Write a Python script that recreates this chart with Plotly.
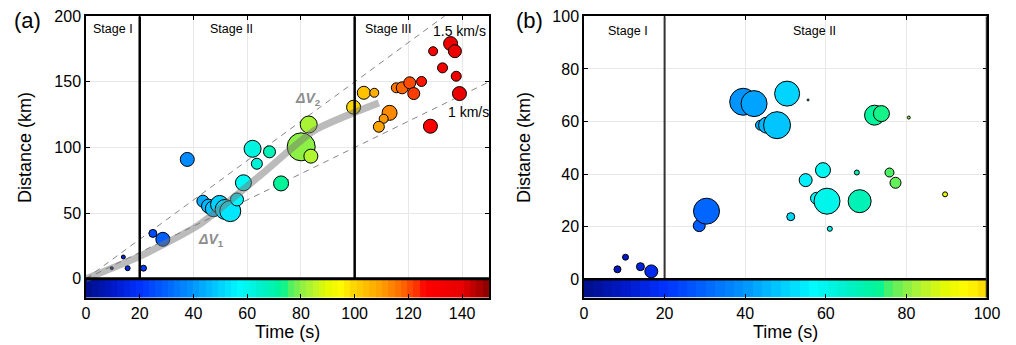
import plotly.graph_objects as go
import numpy as np

# ---------------- data: panel (a) ----------------
a_time = [9.6, 13.9, 15.5, 21.4, 24.9, 28.6, 37.7,
          43.5, 45.6, 47.4, 49.7, 51.8, 53.7, 56.2, 58.6,
          62.0, 68.3, 63.6, 72.6, 80.1, 82.9, 83.7,
          99.6, 103.4, 107.3, 113.0, 110.8, 109.0,
          115.5, 117.7, 120.5, 122.0, 124.9,
          128.2, 129.2, 135.7, 137.3, 132.7, 137.8, 139.0]
a_dist = [8.0, 16.5, 8.0, 8.0, 34.5, 30.0, 90.9,
          59.1, 55.3, 53.3, 56.6, 52.8, 51.5, 60.4, 73.1,
          99.0, 96.7, 87.6, 72.6, 100.5, 117.5, 93.4,
          130.7, 141.7, 141.7, 126.4, 121.9, 115.8,
          145.5, 145.5, 149.3, 141.1, 150.3,
          116.2, 173.4, 179.2, 173.4, 160.7, 154.3, 141.1]
a_size = [3, 4, 5, 6, 8, 14, 14,
          12, 14, 16, 18, 20, 21, 13, 16,
          17, 12, 11, 15, 28, 17, 14,
          14, 13, 9, 15, 9, 11,
          10, 12, 12, 12, 10,
          14, 9, 14, 13, 10, 10, 14]

# velocity trend (gray) line
trend_t = [0, 20, 42, 65, 85, 109]
trend_d = [0, 17, 41, 79, 113, 134]

# ---------------- data: panel (b) ----------------
b_time = [8.3, 10.3, 14.0, 16.7, 28.6, 30.4,
          39.5, 42.2, 50.4, 55.6, 43.8, 45.3, 47.9,
          55.0, 59.3, 57.7, 60.3, 51.3, 61.0, 67.7, 68.4,
          75.8, 77.3, 89.6, 72.1, 73.8, 80.6]
b_dist = [3.8, 8.4, 4.8, 3.0, 20.4, 25.9,
          67.5, 66.8, 70.6, 68.2, 58.6, 58.6, 58.6,
          37.7, 41.5, 30.8, 29.7, 23.8, 19.2, 40.6, 29.7,
          40.6, 36.7, 32.3, 62.4, 63.0, 61.5]
b_size = [7, 6, 8, 13, 12, 26,
          27, 26, 25, 2, 10, 16, 27,
          13, 15, 12, 26, 8, 5, 5, 23,
          9, 11, 5, 20, 16, 3]

a_xticks = [0, 20, 40, 60, 80, 100, 120, 140]
a_yticks = [0, 50, 100, 150, 200]
b_xticks = [0, 20, 40, 60, 80, 100]
b_yticks = [0, 20, 40, 60, 80, 100]

stage_a = [("Stage I", 10.2), ("Stage II", 54.3), ("Stage III", 112.6)]
stage_b = [("Stage I", 10.8), ("Stage II", 57.3)]

# jet-like colormap (time 0..150)
cmap_pts = [(0, (0, 15, 135)), (10, (0, 25, 200)), (20, (0, 50, 255)), (30, (0, 100, 255)),
            (40, (0, 150, 255)), (50, (0, 210, 255)), (57, (0, 250, 255)), (65, (0, 240, 205)),
            (73, (0, 245, 150)), (76, (80, 240, 100)), (80, (140, 240, 70)), (85, (190, 245, 40)),
            (90, (230, 250, 0)), (95, (255, 250, 0)), (100, (255, 212, 0)), (110, (255, 160, 0)),
            (118, (255, 100, 0)), (124, (255, 40, 0)), (126, (255, 0, 0)), (140, (232, 0, 0)),
            (150, (135, 0, 0))]
CMAX = 150.0
colorscale = [[v / CMAX, "rgb(%d,%d,%d)" % c] for v, c in cmap_pts]

FONT = "Liberation Sans, Arial, Helvetica, sans-serif"

fig = go.Figure()

def colorbar(xmax, ymin, xa, ya, n):
    edges = np.linspace(0, xmax, n + 1)
    centers = (edges[:-1] + edges[1:]) / 2
    fig.add_trace(go.Heatmap(x=edges, y=[ymin, 0], z=[centers], colorscale=colorscale,
                             zmin=0, zmax=CMAX, showscale=False, zsmooth=False,
                             hoverinfo="skip", xaxis=xa, yaxis=ya))

# ----- panel a -----
colorbar(150, -14.5, "x", "y", 64)
for v in [1.5, 1.0]:
    fig.add_trace(go.Scatter(x=[0, 150], y=[0, 150 * v], mode="lines",
                             line=dict(color="rgb(120,120,120)", width=0.9, dash="6px,5px"),
                             showlegend=False, xaxis="x", yaxis="y", hoverinfo="skip"))
fig.add_trace(go.Scatter(x=a_time, y=a_dist, mode="markers",
                         marker=dict(size=a_size, color=a_time, colorscale=colorscale,
                                     cmin=0, cmax=CMAX, line=dict(color="black", width=1),
                                     opacity=1),
                         showlegend=False, xaxis="x", yaxis="y"))
fig.add_trace(go.Scatter(x=trend_t, y=trend_d, mode="lines",
                         line=dict(color="rgba(120,120,120,0.5)", width=7, shape="spline", smoothing=0.6),
                         showlegend=False, xaxis="x", yaxis="y", hoverinfo="skip"))

# ----- panel b -----
colorbar(100, -7, "x2", "y2", 43)
fig.add_trace(go.Scatter(x=b_time, y=b_dist, mode="markers",
                         marker=dict(size=b_size, color=b_time, colorscale=colorscale,
                                     cmin=0, cmax=CMAX, line=dict(color="black", width=1),
                                     opacity=1),
                         showlegend=False, xaxis="x2", yaxis="y2"))

# stage dividers and colorbar top lines
fig.add_shape(type="line", x0=20, x1=20, y0=0, y1=200, xref="x", yref="y", line=dict(color="black", width=2.5))
fig.add_shape(type="line", x0=100, x1=100, y0=0, y1=200, xref="x", yref="y", line=dict(color="black", width=2.5))
fig.add_shape(type="line", x0=0, x1=150, y0=0, y1=0, xref="x", yref="y", line=dict(color="black", width=3))
fig.add_shape(type="line", x0=20, x1=20, y0=0, y1=100, xref="x2", yref="y2", line=dict(color="rgb(50,50,50)", width=2))
fig.add_shape(type="line", x0=0, x1=100, y0=0, y1=0, xref="x2", yref="y2", line=dict(color="black", width=2.5))
fig.add_shape(type="line", x0=100, x1=100, y0=-7, y1=100, xref="x2", yref="y2", line=dict(color="rgb(50,50,50)", width=2.5))

ann = []
def add_text(x, y, xref, yref, text, size, color="black", angle=0):
    ann.append(dict(x=x, y=y, xref=xref, yref=yref, text=text, showarrow=False,
                    xanchor="center", yanchor="middle", textangle=angle,
                    font=dict(size=size, color=color, family=FONT)))

for txt, t in stage_a:
    add_text(t, 190.6, "x", "y", txt, 12.5)
for txt, t in stage_b:
    add_text(t, 94.4, "x2", "y2", txt, 12.5)
add_text(139, 189, "x", "y", "1.5 km/s", 14)
add_text(142.4, 127.4, "x", "y", "1 km/s", 14)
add_text(82.7, 137.3, "x", "y", "<b><i>ΔV</i><sub>2</sub></b>", 14, "rgb(140,140,140)")
add_text(46.4, 29.5, "x", "y", "<b><i>ΔV</i><sub>1</sub></b>", 14, "rgb(140,140,140)")

# panel letters and axis titles (paper coords)
W, H = 1016.0, 345.0
def px(x, y):
    return x / W, 1 - y / H
for txt, (x, y) in [("(a)", (27, 20)), ("(b)", (529, 20))]:
    xx, yy = px(x, y)
    add_text(xx, yy, "paper", "paper", txt, 22)
for x, y in [(287, 332), (785, 332)]:
    xx, yy = px(x, y)
    add_text(xx, yy, "paper", "paper", "Time (s)", 18)
for x, y in [(25, 148), (524, 148)]:
    xx, yy = px(x, y)
    add_text(xx, yy, "paper", "paper", "Distance (km)", 18, angle=-90)

ydom = [1 - 297.7 / H, 1 - 16.3 / H]
axis_common = dict(showline=True, linecolor="black", linewidth=1.5, mirror="allticks",
                   ticks="inside", ticklen=4, tickcolor="black", showgrid=True,
                   gridcolor="rgb(232,232,232)", gridwidth=1, zeroline=False,
                   tickfont=dict(size=16, color="black", family=FONT), automargin=False)

fig.update_layout(
    width=1016, height=345, margin=dict(l=0, r=0, t=0, b=0),
    paper_bgcolor="white", plot_bgcolor="white", showlegend=False,
    xaxis=dict(domain=[86 / W, 489 / W], range=[0, 150], tickvals=a_xticks, anchor="y", **axis_common),
    yaxis=dict(domain=ydom, range=[-14.5, 200], tickvals=a_yticks, anchor="x", **axis_common),
    xaxis2=dict(domain=[584 / W, 987 / W], range=[0, 100], tickvals=b_xticks, anchor="y2", **axis_common),
    yaxis2=dict(domain=ydom, range=[-7, 100], tickvals=b_yticks, anchor="x2", **axis_common),
    annotations=ann,
)

fig.write_html("out.html")
